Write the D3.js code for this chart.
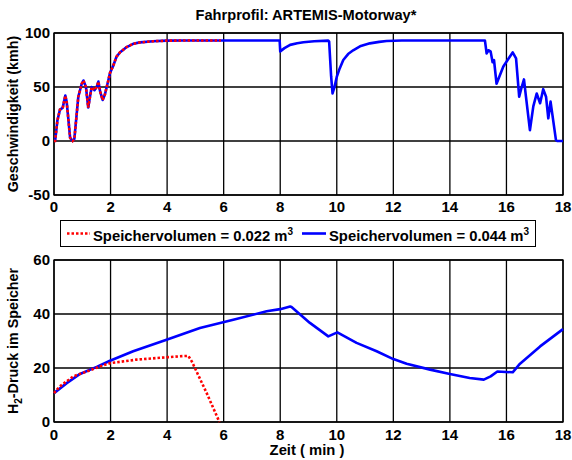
<!DOCTYPE html>
<html>
<head>
<meta charset="utf-8">
<script src="https://cdn.jsdelivr.net/npm/d3@7"></script>
<style>
  html, body { margin: 0; padding: 0; background: #fff; }
  svg { display: block; font-family: "Liberation Sans", Arial, sans-serif; font-weight: bold; }
  .grid line { stroke: #000; stroke-width: 1.3; }
  .frame { fill: none; stroke: #000; stroke-width: 1.3; }
</style>
</head>
<body>
<div id="chart"></div>
<script>
// --- data ---
const timeTicks = [0, 2, 4, 6, 8, 10, 12, 14, 16, 18];
const speedTicks = [-50, 0, 50, 100];
const pressureTicks = [0, 20, 40, 60];
const legendLabels = ["Speichervolumen = 0.022 m", "Speichervolumen = 0.044 m"];

// speed profile (min, km/h) – same for both volumes, the 0.022 run ends near 5.9 min
const speedT = [0, 0.04, 0.12, 0.21, 0.27, 0.31, 0.40, 0.45, 0.57, 0.66, 0.72, 0.86, 0.98, 1.04, 1.13, 1.21,
  1.33, 1.43, 1.51, 1.57, 1.63, 1.72, 1.80, 1.92, 1.98, 2.10, 2.21, 2.33, 2.57, 2.80, 3.04, 3.50, 3.98,
  4.5, 5.0, 5.9, 7.0, 7.98, 8.0, 8.15, 8.35, 8.6, 8.82, 9.2, 9.7, 9.73, 9.8, 9.85, 9.92, 10.0, 10.1,
  10.23, 10.4, 10.58, 10.85, 11.17, 11.5, 11.76, 12.3, 13, 14, 15.24, 15.3, 15.36, 15.44, 15.51, 15.56,
  15.65, 15.89, 16.22, 16.34, 16.45, 16.54, 16.62, 16.69, 16.83, 16.95, 17.07, 17.19, 17.3, 17.4,
  17.48, 17.56, 17.75, 17.8, 18.0];
const speedV = [0, 0, 19, 29, 30, 31, 42, 36, 3, 0, 2, 41, 53, 56, 50, 31,
  50, 47, 50, 55, 46, 38, 43, 56, 63, 70, 78, 82, 87, 90, 91.3, 92.3, 92.9,
  93, 93, 93, 93, 93, 83, 86, 89, 90.5, 91.4, 92.3, 92.9, 92, 60, 44, 50, 59.5, 67,
  75, 80.5, 84, 88, 90.4, 91.8, 92.6, 93, 93, 93, 93, 81, 84, 83, 73, 75,
  53, 69, 82, 76.5, 41, 50, 57, 41, 10, 32, 44, 35, 48, 41,
  21, 36.5, 1, 0, 0];
const speedEnd022 = 5.9;

// H2 pressure in the store (min, bar)
const press044T = [0, 0.45, 0.92, 1.51, 1.98, 2.8, 3.98, 5.16, 6.34, 7.52, 8.0, 8.35, 8.4, 9.05, 9.7,
  10.02, 10.7, 11.41, 12.0, 12.47, 13.3, 14.0, 14.7, 15.2, 15.44, 15.68, 16.22, 16.48, 17.19, 18.0];
const press044P = [10.7, 14.4, 17.8, 20.4, 22.7, 26.2, 30.5, 34.8, 37.9, 41, 41.8, 42.8, 42.6, 36.7, 31.7,
  33.2, 29.3, 26.2, 23.3, 21.6, 19.4, 17.8, 16.3, 15.7, 16.9, 18.7, 18.4, 21.6, 28, 34.4];
const press022T = [0, 0.21, 0.68, 1.16, 1.63, 1.98, 2.92, 4.4, 4.75, 4.87, 5.4, 5.85];
const press022P = [10.7, 13.2, 16.9, 18.7, 20.6, 21.8, 23.1, 24.3, 24.5, 22.5, 10.7, 0];

(function () {
  const W = 572, H = 460;
  const left = 54, right = 563;
  const top1 = 33, bot1 = 195, top2 = 260, bot2 = 422;
  const RED = "#ff0000", BLUE = "#0000ff";

  const svg = d3.select("#chart").append("svg").attr("width", W).attr("height", H);

  const x = d3.scaleLinear().domain([0, 18]).range([left, right]);
  const ySpeed = d3.scaleLinear().domain([-50, 100]).range([bot1, top1]);
  const yPress = d3.scaleLinear().domain([0, 60]).range([bot2, top2]);

  const zip = (a, b) => a.map((t, i) => [t, b[i]]);
  const speedAll = zip(speedT, speedV);
  const speed022 = speedAll.filter(d => d[0] <= speedEnd022);

  function panel(y, yTicks, top, bot, tickBaseline) {
    const g = svg.append("g");
    const grid = g.append("g").attr("class", "grid");
    grid.selectAll("line.v").data(timeTicks).join("line").attr("class", "v")
      .attr("x1", d => x(d)).attr("x2", d => x(d)).attr("y1", top).attr("y2", bot);
    grid.selectAll("line.h").data(yTicks).join("line").attr("class", "h")
      .attr("x1", left).attr("x2", right).attr("y1", d => y(d)).attr("y2", d => y(d));
    g.append("rect").attr("class", "frame")
      .attr("x", left).attr("y", top).attr("width", right - left).attr("height", bot - top);

    g.append("g").selectAll("text").data(yTicks).join("text")
      .attr("x", left - 4).attr("y", d => y(d)).attr("dy", "0.36em")
      .attr("text-anchor", "end").attr("font-size", 15).text(d => d);
    g.append("g").selectAll("text").data(timeTicks).join("text")
      .attr("x", d => x(d)).attr("y", tickBaseline)
      .attr("text-anchor", "middle").attr("font-size", 15).text(d => d);
    return g;
  }

  const line = (y) => d3.line().x(d => x(d[0])).y(d => y(d[1]));

  // --- top: speed profile ---
  const g1 = panel(ySpeed, speedTicks, top1, bot1, 212);
  g1.append("path").datum(speedAll).attr("d", line(ySpeed))
    .attr("fill", "none").attr("stroke", BLUE).attr("stroke-width", 2.6).attr("stroke-linejoin", "round");
  g1.append("path").datum(speed022).attr("d", line(ySpeed))
    .attr("fill", "none").attr("stroke", RED).attr("stroke-width", 2.6).attr("stroke-dasharray", "2.5,2");

  svg.append("text").attr("x", 306).attr("y", 20).attr("text-anchor", "middle")
    .attr("font-size", 14.6).text("Fahrprofil: ARTEMIS-Motorway*");
  svg.append("text").attr("transform", `translate(18,${(top1 + bot1) / 2}) rotate(-90)`)
    .attr("text-anchor", "middle").attr("font-size", 14.3).text("Geschwindigkeit (kmh)");

  // --- bottom: pressure ---
  const g2 = panel(yPress, pressureTicks, top2, bot2, 440);
  g2.append("path").datum(zip(press044T, press044P)).attr("d", line(yPress))
    .attr("fill", "none").attr("stroke", BLUE).attr("stroke-width", 2.6).attr("stroke-linejoin", "round");
  g2.append("path").datum(zip(press022T, press022P)).attr("d", line(yPress))
    .attr("fill", "none").attr("stroke", RED).attr("stroke-width", 2.6).attr("stroke-dasharray", "2.5,2");

  const yl = svg.append("text").attr("transform", `translate(18,${(top2 + bot2) / 2}) rotate(-90)`)
    .attr("text-anchor", "middle").attr("font-size", 14.3);
  yl.append("tspan").text("H");
  yl.append("tspan").attr("dy", 4).attr("font-size", 10).text("2");
  yl.append("tspan").attr("dy", -4).text("-Druck im Speicher");

  svg.append("text").attr("x", 307).attr("y", 455).attr("text-anchor", "middle")
    .attr("font-size", 14.8).text("Zeit ( min )");

  // --- legend ---
  const lg = svg.append("g");
  lg.append("rect").attr("x", 60.5).attr("y", 220.5).attr("width", 475).attr("height", 26)
    .attr("fill", "#fff").attr("stroke", "#000").attr("stroke-width", 1);
  const items = [
    { label: legendLabels[0], color: RED, dash: "2.5,2", x0: 67, x1: 90, tx: 93 },
    { label: legendLabels[1], color: BLUE, dash: null, x0: 302, x1: 326, tx: 329 }
  ];
  items.forEach(it => {
    lg.append("line").attr("x1", it.x0).attr("x2", it.x1).attr("y1", 233.5).attr("y2", 233.5)
      .attr("stroke", it.color).attr("stroke-width", 2.6).attr("stroke-dasharray", it.dash);
    const t = lg.append("text").attr("x", it.tx).attr("y", 240.5).attr("font-size", 14.8);
    t.append("tspan").text(it.label);
    t.append("tspan").attr("dy", -6).attr("font-size", 10).text("3");
  });
})();
</script>
</body>
</html>
